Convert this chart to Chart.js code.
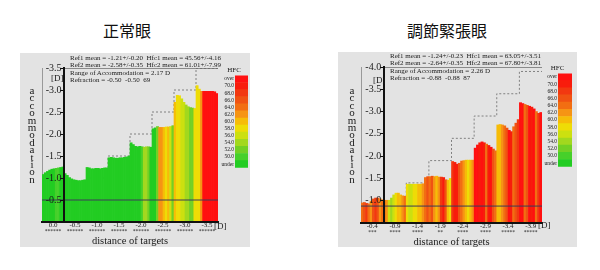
<!DOCTYPE html>
<html>
<head>
<meta charset="utf-8">
<script src="https://cdn.jsdelivr.net/npm/chart.js@4.4.0/dist/chart.umd.min.js"></script>
<style>
  body { margin: 0; width: 600px; height: 270px; background: #fff; position: relative; overflow: hidden;
         font-family: "Liberation Serif", serif; color: #1a1a1a; }
  .abs { position: absolute; white-space: nowrap; }
  .panel { position: absolute; background: #e3e3e3; }
  .title { font-family: "Noto Sans CJK JP", sans-serif; font-size: 16px; line-height: 16px; color: #111; }
  .note { font-size: 7px; line-height: 7px; }
  .unit { font-size: 9px; line-height: 9px; }
  .vert { position: absolute; width: 12px; font-size: 11px; line-height: 7.4px; text-align: center; }
  canvas { position: absolute; }
</style>
</head>
<body>

<div class="abs title" style="left:103px; top:22px;">正常眼</div>
<div class="abs title" style="left:407px; top:22px;">調節緊張眼</div>

<div class="panel" style="left:20px; top:53px; width:230px; height:194px;"></div>
<div class="panel" style="left:338px; top:52px; width:239px; height:195px;"></div>

<canvas id="grafL" width="230" height="195" style="left:20px; top:53px;"></canvas>
<canvas id="grafR" width="239" height="197" style="left:338px; top:52px;"></canvas>
<canvas id="skalaL" width="28" height="106" style="left:220px; top:66px;"></canvas>
<canvas id="skalaR" width="29" height="107" style="left:543px; top:64px;"></canvas>

<!-- texty lavy graf -->
<div class="vert" style="left:26px; top:87px;">a<br>c<br>c<br>o<br>m<br>m<br>o<br>d<br>a<br>t<br>i<br>o<br>n</div>
<div class="abs note" style="left:70px; top:55px;">Ref1 mean = -1.21+/-0.20 &nbsp;Hfc1 mean = 45.56+/-4.16</div>
<div class="abs note" style="left:70px; top:62px;">Ref2 mean = -2.58+/-0.35 &nbsp;Hfc2 mean = 61.01+/-7.99</div>
<div class="abs note" style="left:70px; top:70px;">Range of Accommodation = 2.17 D</div>
<div class="abs note" style="left:70px; top:77px;">Refraction = -0.50 &nbsp;-0.50 &nbsp;69</div>
<div class="abs unit" style="left:51px; top:74px;">[D]</div>
<div class="abs unit" style="left:214px; top:222px;">[D]</div>

<!-- texty pravy graf -->
<div class="vert" style="left:346px; top:87px;">a<br>c<br>c<br>o<br>m<br>m<br>o<br>d<br>a<br>t<br>i<br>o<br>n</div>
<div class="abs note" style="left:390px; top:53px;">Ref1 mean = -1.24+/-0.23 &nbsp;Hfc1 mean = 63.05+/-3.51</div>
<div class="abs note" style="left:390px; top:60px;">Ref2 mean = -2.64+/-0.35 &nbsp;Hfc2 mean = 67.80+/-3.81</div>
<div class="abs note" style="left:390px; top:68px;">Range of Accommodation = 2.26 D</div>
<div class="abs note" style="left:390px; top:75px;">Refraction = -0.88 &nbsp;-0.88 &nbsp;87</div>
<div class="abs unit" style="left:373px; top:76px;">[D]</div>
<div class="abs unit" style="left:538px; top:221px;">[D]</div>

<script>
// farebna skala HFC
const bandLabels = ["over", "70.0", "68.0", "66.0", "64.0", "62.0", "60.0", "58.0", "56.0", "54.0", "52.0", "50.0", "under"];
const bandColors = ["#ff1010", "#f81c0c", "#f23810", "#f05212", "#f26e12", "#f69414", "#f6bc08", "#eedc06", "#cce010", "#a2d81e", "#72d024", "#46d02a", "#22cc22"];
const bandLimits = [71, 70, 68, 66, 64, 62, 60, 58, 56, 54, 52, 50, -Infinity];

// lavy graf - normalne oko
const leftTicks = ["0.0", "-0.5", "-1.0", "-1.5", "-2.0", "-2.5", "-3.0", "-3.5"];
const leftStars = ["******", "******", "******", "******", "******", "******", "******", "******"];
const leftTargets = [0.0, -0.5, -1.0, -1.5, -2.0, -2.5, -3.0, -3.5];
const leftRefraction = -0.5;
const leftAccom = [
  -1.08, -1.12, -1.15, -1.18, -1.20, -1.21, -1.22, -1.23, -1.24, -1.25,
  -1.10, -1.06, -1.01, -0.98, -0.96, -0.95, -0.94, -0.94, -0.95, -0.96,
  -1.24, -1.23, -1.21, -1.21, -1.22, -1.22, -1.21, -1.22, -1.23, -1.23,
  -1.46, -1.47, -1.46, -1.45, -1.45, -1.46, -1.46, -1.47, -1.48, -1.50,
  -1.80, -1.76, -1.72, -1.71, -1.72, -1.71, -1.70, -1.71, -1.71, -1.70,
  -2.12, -2.14, -2.17, -2.15, -2.15, -2.15, -2.16, -2.16, -2.17, -2.19,
  -2.72, -2.88, -2.87, -2.80, -2.72, -2.66, -2.62, -2.60, -2.59, -2.58,
  -3.10, -3.02, -2.97, -2.97, -2.97, -2.97, -2.97, -2.97, -2.96, -2.92
];
const leftHfc = [
  45, 45, 45, 45, 45, 46, 50, 50, 45, 45,
  45, 45, 45, 45, 45, 45, 45, 45, 45, 45,
  45, 45, 45, 45, 45, 45, 45, 45, 45, 45,
  45, 45, 45, 45, 45, 45, 45, 45, 45, 45,
  45, 45, 45, 45, 46, 50, 54, 55, 52, 46,
  45, 47, 52, 63, 63, 60, 58, 61, 56, 52,
  60, 59, 58, 57, 56, 55, 54, 53, 52, 58,
  58, 59, 62, 72, 72, 72, 72, 72, 72, 72
];

// pravy graf - oko s napatim akomodacie
const rightTicks = ["-0.4", "-0.9", "-1.4", "-1.9", "-2.4", "-2.9", "-3.4", "-3.9"];
const rightStars = ["***", "****", "****", "**", "****", "****", "*****", "*****"];
const rightTargets = [-0.4, -0.9, -1.4, -1.9, -2.4, -2.9, -3.4, -3.9];
const rightRefraction = -0.88;
const rightAccom = [
  -0.95, -0.96, -0.94, -0.93, -0.99, -1.04, -1.06, -1.06, -1.04, -1.02,
  -1.01, -1.01, -1.01, -1.06, -1.13, -1.17, -1.17, -1.13, -1.11, -1.10,
  -1.37, -1.37, -1.37, -1.37, -1.37, -1.37, -1.37, -1.38, -1.52, -1.54,
  -1.54, -1.55, -1.54, -1.55, -1.53, -1.53, -1.52, -1.47, -1.46, -1.50,
  -1.88, -1.86, -1.82, -1.84, -1.89, -1.90, -1.91, -1.91, -1.91, -1.91,
  -2.18, -2.25, -2.30, -2.32, -2.30, -2.27, -2.24, -2.20, -2.16, -2.12,
  -2.70, -2.71, -2.70, -2.68, -2.63, -2.58, -2.55, -2.66, -2.74, -2.82,
  -3.20, -3.18, -3.16, -3.14, -3.12, -3.10, -3.06, -3.00, -2.96, -2.98
];
const rightHfc = [
  64, 66, 68, 64, 62, 66, 68, 66, 62, 64,
  64, 62, 57, 55, 56, 58, 60, 61, 62, 64,
  58, 57, 56, 58, 59, 60, 61, 62, 64, 66,
  64, 66, 62, 60, 62, 68, 70, 66, 60, 58,
  68, 70, 70, 66, 64, 62, 60, 59, 61, 63,
  72, 72, 70, 72, 70, 64, 70, 72, 66, 64,
  60, 60, 62, 64, 66, 72, 70, 64, 66, 68,
  72, 72, 64, 66, 72, 70, 72, 64, 68, 72
];

const serif = "'Liberation Serif', 'Times New Roman', serif";

function hfcFarba(h) {
  for (let i = 0; i < bandLimits.length; i++) {
    if (h >= bandLimits[i]) return bandColors[i];
  }
  return bandColors[bandColors.length - 1];
}

function VytvorGraf(id, d) {
  const n = d.accom.length / d.ticks.length; // vzorky na jeden ciel
  const body = d.accom.map((v, i) => ({ x: Math.floor(i / n) + ((i % n) + 0.5) / n, y: v }));
  const schody = d.targets.map((t, i) => ({ x: i, y: t }));
  schody.push({ x: d.targets.length, y: d.targets[d.targets.length - 1] });

  return new Chart(document.getElementById(id), {
    data: {
      datasets: [
        { type: "line", data: [{ x: 0, y: d.refr }, { x: d.ticks.length, y: d.refr }],
          borderColor: "#3c3c58", borderWidth: 1, pointRadius: 0, order: 0 },
        { type: "line", data: [{ x: 1, y: d.yMin }, { x: d.ticks.length, y: d.yMin }],
          borderColor: "#333", borderWidth: 1, pointRadius: 0, order: 0 },
        { type: "bar", data: body, backgroundColor: d.hfc.map(hfcFarba), borderWidth: 0,
          base: d.yMax, categoryPercentage: 1, barPercentage: 1, order: 1 },
        { type: "line", data: schody, stepped: true, borderColor: "#808080", borderWidth: 1,
          borderDash: [2, 2], pointRadius: 0, order: 2 }
      ]
    },
    options: {
      responsive: false,
      animation: false,
      layout: { padding: d.padding },
      plugins: { legend: { display: false }, tooltip: { enabled: false } },
      scales: {
        x: {
          type: "linear", min: 0, max: d.ticks.length, offset: false,
          afterBuildTicks: s => { s.ticks = d.ticks.map((t, i) => ({ value: i + 0.5 })); },
          ticks: { callback: (v, i) => d.ticks[i], font: { family: serif, size: 7, lineHeight: 1 },
                   color: "#1a1a1a", padding: 0, autoSkip: false, maxRotation: 0 },
          grid: { display: false, drawTicks: false },
          border: { color: "#111", width: 2, z: 1 }
        },
        x2: {
          type: "linear", position: "bottom", min: 0, max: d.ticks.length, offset: false,
          afterBuildTicks: s => { s.ticks = d.stars.map((t, i) => ({ value: i + 0.5 })); },
          ticks: { callback: (v, i) => d.stars[i], font: { family: serif, size: 5.5, lineHeight: 1 },
                   color: "#1a1a1a", padding: 0, autoSkip: false, maxRotation: 0 },
          grid: { display: false, drawTicks: false },
          border: { display: false },
          title: { display: true, text: "distance of targets", font: { family: serif, size: 10.5, lineHeight: 1 },
                   color: "#1a1a1a", padding: { top: 1, bottom: 0 } }
        },
        y: {
          type: "linear", reverse: true, min: d.yMin, max: d.yMax,
          position: { x: 1 },
          afterFit: s => { s.width = 0; },
          ticks: { stepSize: 0.5, callback: v => (v === d.yMax ? "" : v.toFixed(1) + " "),
                   font: { family: serif, size: 10 }, color: "#1a1a1a", z: 1 },
          grid: { display: true, drawOnChartArea: false, drawTicks: true, tickLength: 3, color: "#111", z: 1 },
          border: { color: "#111", width: 2, z: 1 }
        },
        y2: {
          type: "linear", position: "left",
          afterFit: s => { s.width = 0; },
          ticks: { display: false },
          grid: { display: false, drawTicks: false },
          border: { color: "#999", width: 1 }
        }
      }
    }
  });
}

function VytvorSkalu(id) {
  return new Chart(document.getElementById(id), {
    type: "bar",
    data: {
      labels: bandLabels,
      datasets: [{ data: bandLabels.map(() => 1), backgroundColor: bandColors, borderWidth: 0,
                   categoryPercentage: 1, barPercentage: 1 }]
    },
    options: {
      indexAxis: "y",
      responsive: false,
      animation: false,
      layout: { padding: 0 },
      plugins: {
        legend: { display: false }, tooltip: { enabled: false },
        title: { display: true, text: "HFC", font: { family: serif, size: 7, weight: "normal", lineHeight: 1.2 },
                 color: "#1a1a1a", padding: { top: 0, bottom: 1 } }
      },
      scales: {
        x: { display: false, min: 0, max: 1 },
        y: {
          afterFit: s => { s.width = 15; },
          ticks: { font: { family: serif, size: 5.5 }, color: "#1a1a1a", padding: 1, autoSkip: false },
          grid: { display: false, drawTicks: false },
          border: { display: false }
        }
      }
    }
  });
}

VytvorGraf("grafL", {
  accom: leftAccom, hfc: leftHfc, ticks: leftTicks, stars: leftStars, targets: leftTargets,
  refr: leftRefraction, yMin: -3.5, yMax: 0,
  padding: { left: 22, top: 15, right: 32, bottom: 2 }
});
VytvorGraf("grafR", {
  accom: rightAccom, hfc: rightHfc, ticks: rightTicks, stars: rightStars, targets: rightTargets,
  refr: rightRefraction, yMin: -4.0, yMax: -0.5,
  padding: { left: 23, top: 15, right: 35, bottom: 2 }
});
VytvorSkalu("skalaL");
VytvorSkalu("skalaR");
</script>
</body>
</html>
